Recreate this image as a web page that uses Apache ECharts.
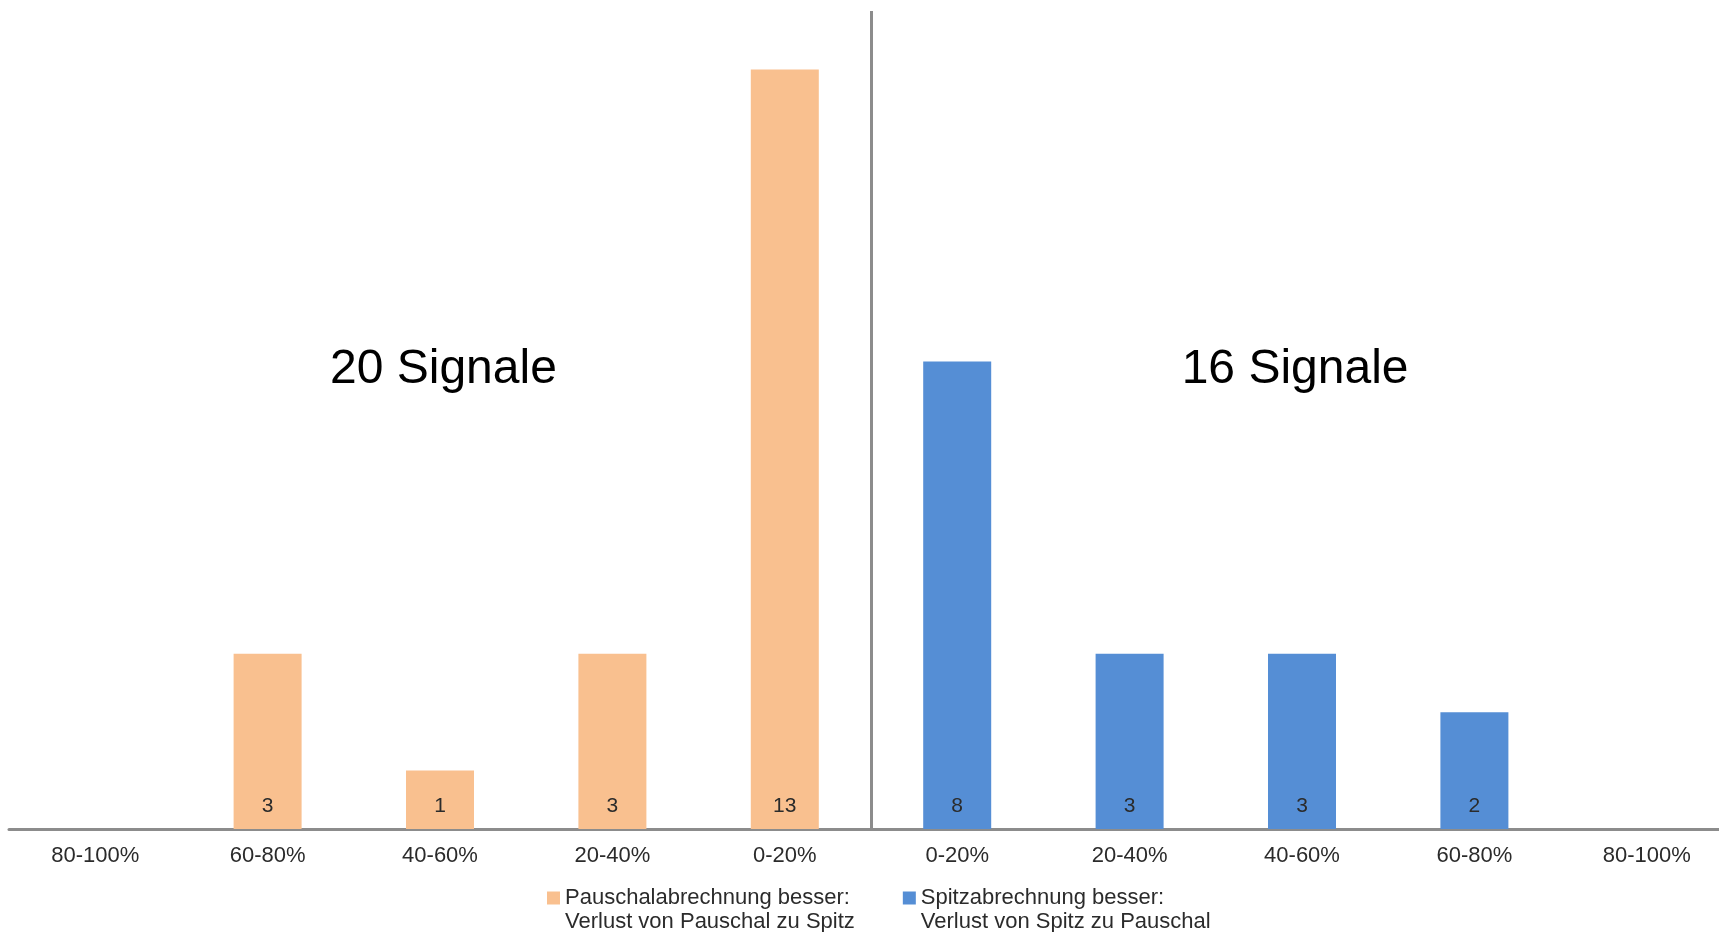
<!DOCTYPE html>
<html>
<head>
<meta charset="utf-8">
<script src="https://cdn.jsdelivr.net/npm/echarts@6/dist/echarts.min.js"></script>
<style>
html,body{margin:0;padding:0;background:#fff;overflow:hidden;width:1719px;height:932px;}
#chart{width:1733px;height:932px;}
</style>
</head>
<body>
<div id="chart"></div>
<script>
var categories = ['80-100%','60-80%','40-60%','20-40%','0-20%','0-20%','20-40%','40-60%','60-80%','80-100%'];
var seriesNames = ['Pauschalabrechnung besser:\nVerlust von Pauschal zu Spitz', 'Spitzabrechnung besser:\nVerlust von Spitz zu Pauschal'];
var pauschalValues = [null, 3, 1, 3, 13, null, null, null, null, null];
var spitzValues = [null, null, null, null, null, 8, 3, 3, 2, null];
var annotations = ['20 Signale', '16 Signale'];

var FONT = 'Liberation Sans, Arial, sans-serif';
var chart = echarts.init(document.getElementById('chart'));

var barLabel = {
  show: true,
  position: 'insideBottom',
  distance: 12,
  fontSize: 21,
  fontFamily: FONT,
  color: '#2b2b2b'
};

chart.setOption({
  animation: false,
  backgroundColor: '#ffffff',
  grid: { left: 9, top: 11, bottom: 103, right: 0 },
  legend: {
    data: seriesNames,
    left: 542,
    top: 857,
    itemWidth: 13,
    itemHeight: 13,
    itemGap: 48,
    icon: 'rect',
    formatter: function (name) { return '\n' + name; },
    textStyle: {
      fontSize: 22,
      lineHeight: 24,
      fontFamily: FONT,
      color: '#2b2b2b'
    }
  },
  xAxis: [{
    type: 'category',
    data: categories,
    axisTick: { show: false },
    axisLine: { show: true, lineStyle: { color: '#8c8c8c', width: 3 } },
    axisLabel: { fontSize: 22, fontFamily: FONT, color: '#2b2b2b', margin: 16, interval: 0 },
    splitLine: { show: false }
  }, {
    type: 'value',
    min: 0,
    max: categories.length,
    show: false,
    splitLine: { show: false }
  }],
  yAxis: {
    type: 'value',
    min: 0,
    max: 14,
    show: false,
    splitLine: { show: false }
  },
  series: [{
    name: seriesNames[0],
    type: 'bar',
    stack: 'all',
    barWidth: 68,
    data: pauschalValues,
    itemStyle: { color: '#F9C08F' },
    label: barLabel
  }, {
    name: seriesNames[1],
    type: 'bar',
    stack: 'all',
    barWidth: 68,
    data: spitzValues,
    itemStyle: { color: '#558ED5' },
    label: barLabel
  }, {
    name: 'divider',
    type: 'line',
    xAxisIndex: 1,
    data: [],
    silent: true,
    markLine: {
      silent: true,
      symbol: 'none',
      label: { show: false },
      lineStyle: { color: '#8c8c8c', width: 3, type: 'solid' },
      data: [{ xAxis: 5 }]
    },
    markPoint: {
      symbol: 'circle',
      symbolSize: 1,
      itemStyle: { color: 'rgba(0,0,0,0)' },
      label: { show: true, position: 'inside', formatter: '{b}', fontSize: 48, fontFamily: FONT, color: '#000' },
      data: [
        { name: annotations[0], coord: [2.52, 7.86] },
        { name: annotations[1], coord: [7.46, 7.86] }
      ]
    }
  }]
});
</script>
</body>
</html>
